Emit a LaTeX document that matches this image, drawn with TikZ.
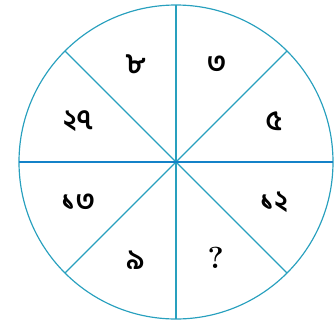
\documentclass[tikz,border=0pt]{standalone}
\usepackage{fontspec}
\usepackage{xcolor}
\usepackage{tikz}
\usetikzlibrary{calc}
\newfontfamily\bnfont[Script=Bengali]{Hind Siliguri}
\definecolor{wheelteal}{RGB}{40,160,190}
\definecolor{wheelblue}{RGB}{20,130,200}

\begin{document}
\begin{tikzpicture}[x=0.03cm,y=0.03cm,rim/.style={draw=wheelteal,line width=1pt},spoke/.style={draw=wheelteal,line width=1.1pt},num/.style={font=\bnfont\bfseries\fontsize{24}{24}\selectfont,text=black,inner sep=0pt},ask/.style={font=\rmfamily\bfseries\fontsize{26}{26}\selectfont,text=black,inner sep=0pt}]
\useasboundingbox (-176,-163) rectangle (159,162);
\coordinate (O) at (0,0);
\draw[rim] (O) circle (157);
\foreach \a in {45,90,135}{\draw[spoke] (\a:157) -- (\a+180:157);}
\draw[spoke,draw=wheelblue] (180:157) -- (0:157);
\foreach \a/\t in {112.5/৮,67.5/৩,22.5/৫,-22.5/১২,-112.5/৯,-157.5/১৩,157.5/২৭}{\node[num] (n\a) at (\a:106) {\t};}
\node[ask] (q) at (-67.5:104) {?};
\end{tikzpicture}
\end{document}
